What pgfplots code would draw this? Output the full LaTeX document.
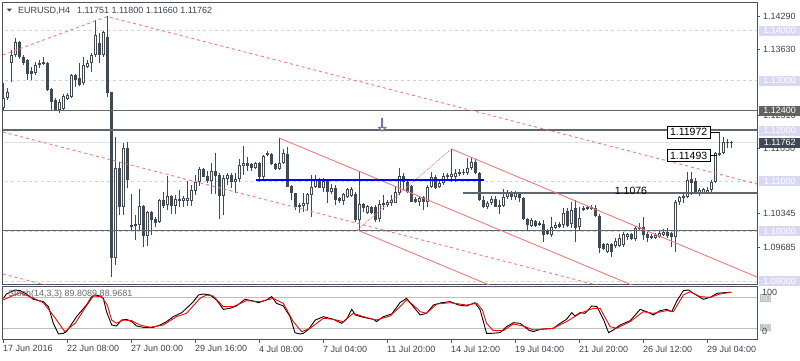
\documentclass[border=0pt]{standalone}
\usepackage{fontspec}
\setmainfont{Liberation Sans}
\usepackage{pgfplots}
\usepackage{pgfplotstable}
\usetikzlibrary{shapes.arrows}
\pgfplotsset{compat=1.18}
\newcommand\lbl{\fontsize{9}{10}\selectfont}
\newcommand\lblb{\fontsize{10.5}{12}\selectfont}
\definecolor{cndl}{HTML}{3E4A5A}
\definecolor{frm}{HTML}{4A525E}
\definecolor{txt}{HTML}{3A4250}
\definecolor{lav}{HTML}{D8D8F4}
\definecolor{lavline}{HTML}{CFCFEC}
\definecolor{sal}{HTML}{F07A7A}
\definecolor{lvl}{HTML}{5F666F}
\definecolor{bidline}{HTML}{E2E2E2}
\definecolor{darkbox}{HTML}{626262}
\definecolor{slatebox}{HTML}{3E4856}
\definecolor{stochgray}{HTML}{BDBDBD}
\definecolor{arrowc}{HTML}{6F7B9C}
\tikzset{
  plainlab/.style={anchor=west, font=\lbl, text=txt, inner sep=0pt, xshift=6pt},
  lavbox/.style={anchor=west, font=\lbl, text=white, fill=lav, inner sep=0pt, minimum width=41pt, minimum height=10pt, xshift=2pt},
}

\pgfplotstableread{
i o h l c
0 1.12456 1.12954 1.12416 1.12655
1 1.12655 1.12854 1.12615 1.12775
2 1.13353 1.13612 1.12974 1.13513
3 1.13513 1.13851 1.13473 1.13772
4 1.13772 1.13792 1.13433 1.13473
5 1.13473 1.13513 1.13313 1.13353
6 1.13413 1.13433 1.13014 1.13134
7 1.13194 1.13273 1.13014 1.13134
8 1.13154 1.13373 1.13114 1.13313
9 1.13313 1.13413 1.13253 1.13353
10 1.13333 1.13473 1.13313 1.13373
11 1.13353 1.13373 1.12795 1.12815
12 1.12834 1.12854 1.12416 1.12575
13 1.12615 1.12655 1.12396 1.12416
14 1.12416 1.12635 1.12356 1.12575
15 1.12436 1.12735 1.12396 1.12695
16 1.12635 1.12755 1.12615 1.12715
17 1.12675 1.13134 1.12655 1.13114
18 1.13114 1.13134 1.12874 1.13014
19 1.13054 1.13353 1.12894 1.12914
20 1.12954 1.13473 1.12914 1.13313
21 1.13273 1.13413 1.13253 1.13353
22 1.13353 1.13552 1.13174 1.13513
23 1.13513 1.14210 1.13473 1.13911
24 1.13752 1.13951 1.13353 1.13513
25 1.13513 1.13991 1.13473 1.13971
26 1.13871 1.14290 1.12675 1.12755
27 1.12775 1.12775 1.09087 1.09465
28 1.09465 1.11877 1.09326 1.11260
29 1.11260 1.11379 1.10323 1.10482
30 1.10482 1.11758 1.10323 1.11658
31 1.11658 1.11778 1.10861 1.11020
32 1.10123 1.10741 1.10024 1.10083
33 1.10103 1.10323 1.09824 1.10143
34 1.10123 1.10841 1.10024 1.10502
35 1.10502 1.10522 1.09685 1.09904
36 1.09904 1.10402 1.09705 1.10382
37 1.10382 1.10402 1.09924 1.10223
38 1.10243 1.10283 1.10083 1.10163
39 1.10183 1.10641 1.10163 1.10622
40 1.10622 1.10781 1.10462 1.10502
41 1.10522 1.11100 1.10422 1.10701
42 1.10701 1.10721 1.10343 1.10502
43 1.10502 1.10721 1.10343 1.10641
44 1.10602 1.10821 1.10482 1.10641
45 1.10602 1.10701 1.10482 1.10661
46 1.10602 1.11000 1.10502 1.10661
47 1.10602 1.10921 1.10502 1.10821
48 1.10801 1.11120 1.10721 1.10980
49 1.10980 1.11279 1.10901 1.11240
50 1.11240 1.11260 1.11080 1.11080
51 1.11100 1.11200 1.10960 1.11000
52 1.11000 1.11359 1.10741 1.11200
53 1.11200 1.11559 1.10741 1.11100
54 1.11120 1.11160 1.10243 1.10701
55 1.10701 1.11120 1.10323 1.11060
56 1.11040 1.11160 1.10921 1.11120
57 1.11120 1.11160 1.10861 1.10980
58 1.10980 1.11160 1.10761 1.11040
59 1.11040 1.11439 1.10980 1.11319
60 1.11299 1.11698 1.11120 1.11359
61 1.11359 1.11479 1.11200 1.11299
62 1.11339 1.11359 1.11200 1.11260
63 1.11260 1.11379 1.11240 1.11359
64 1.11359 1.11379 1.10980 1.11080
65 1.11080 1.11519 1.11040 1.11499
66 1.11519 1.11599 1.11499 1.11559
67 1.11539 1.11559 1.11319 1.11339
68 1.11339 1.11359 1.11220 1.11240
69 1.11240 1.11857 1.11220 1.11359
70 1.11359 1.11639 1.11339 1.11559
71 1.11539 1.11678 1.10881 1.10881
72 1.10901 1.10921 1.10622 1.10761
73 1.10761 1.10761 1.10422 1.10482
74 1.10522 1.10562 1.10362 1.10482
75 1.10502 1.10761 1.10382 1.10562
76 1.10542 1.10761 1.10422 1.10741
77 1.10721 1.11120 1.10283 1.10881
78 1.10881 1.11120 1.10861 1.11020
79 1.11020 1.11060 1.10861 1.10861
80 1.10861 1.11060 1.10781 1.11000
81 1.11020 1.11040 1.10562 1.10781
82 1.10781 1.10941 1.10741 1.10861
83 1.10861 1.10921 1.10522 1.10622
84 1.10661 1.10681 1.10562 1.10602
85 1.10602 1.10761 1.10522 1.10741
86 1.10681 1.10861 1.10661 1.10841
87 1.10701 1.10881 1.10681 1.10841
88 1.10741 1.10781 1.10183 1.10223
89 1.10223 1.11180 1.10024 1.10542
90 1.10542 1.10562 1.10382 1.10462
91 1.10362 1.10522 1.10343 1.10502
92 1.10482 1.10502 1.10343 1.10362
93 1.10482 1.10522 1.10183 1.10223
94 1.10243 1.10622 1.10183 1.10542
95 1.10522 1.10721 1.10422 1.10562
96 1.10522 1.10622 1.10482 1.10582
97 1.10562 1.10721 1.10502 1.10622
98 1.10562 1.10881 1.10562 1.10781
99 1.10761 1.11260 1.10721 1.11100
100 1.11100 1.11160 1.10821 1.10980
101 1.10980 1.11020 1.10761 1.10781
102 1.10901 1.10921 1.10582 1.10582
103 1.10641 1.10681 1.10562 1.10582
104 1.10582 1.10701 1.10502 1.10661
105 1.10681 1.10701 1.10422 1.10582
106 1.10582 1.10921 1.10482 1.10881
107 1.10881 1.11180 1.10861 1.11080
108 1.11080 1.11120 1.10841 1.10861
109 1.10881 1.11020 1.10861 1.10960
110 1.10960 1.11160 1.10921 1.11100
111 1.11120 1.11160 1.11020 1.11080
112 1.11080 1.11639 1.10980 1.11140
113 1.11080 1.11240 1.10980 1.11160
114 1.11140 1.11240 1.11100 1.11180
115 1.11180 1.11240 1.11120 1.11160
116 1.11160 1.11459 1.11120 1.11260
117 1.11260 1.11479 1.11220 1.11379
118 1.11379 1.11439 1.11140 1.11160
119 1.11160 1.11180 1.10602 1.10622
120 1.10622 1.10701 1.10462 1.10482
121 1.10482 1.10602 1.10442 1.10562
122 1.10562 1.10701 1.10522 1.10641
123 1.10641 1.10701 1.10482 1.10482
124 1.10522 1.10622 1.10343 1.10482
125 1.10502 1.10841 1.10482 1.10681
126 1.10681 1.10821 1.10641 1.10761
127 1.10761 1.10801 1.10622 1.10681
128 1.10681 1.10801 1.10622 1.10761
129 1.10761 1.10781 1.10582 1.10661
130 1.10661 1.10681 1.10223 1.10243
131 1.10243 1.10263 1.10024 1.10123
132 1.10103 1.10263 1.10083 1.10223
133 1.10203 1.10223 1.10083 1.10103
134 1.10123 1.10203 1.10103 1.10163
135 1.10143 1.10223 1.09784 1.09924
136 1.10024 1.10044 1.09924 1.09944
137 1.09924 1.10283 1.09884 1.10083
138 1.10064 1.10183 1.10044 1.10123
139 1.10143 1.10183 1.10064 1.10083
140 1.10123 1.10462 1.10064 1.10362
141 1.10402 1.10462 1.10083 1.10103
142 1.10143 1.10582 1.10064 1.10422
143 1.10462 1.10622 1.09784 1.10064
144 1.10083 1.10482 1.10024 1.10263
145 1.10422 1.10502 1.10402 1.10462
146 1.10442 1.10502 1.10422 1.10482
147 1.10442 1.10522 1.10422 1.10482
148 1.10462 1.10522 1.10283 1.10303
149 1.10303 1.10343 1.09565 1.09665
150 1.09745 1.09764 1.09625 1.09645
151 1.09585 1.09764 1.09565 1.09745
152 1.09745 1.09764 1.09485 1.09585
153 1.09705 1.09864 1.09665 1.09804
154 1.09705 1.09944 1.09685 1.09864
155 1.09725 1.09984 1.09685 1.09944
156 1.09884 1.09964 1.09824 1.09944
157 1.09944 1.09964 1.09824 1.09844
158 1.09844 1.10103 1.09804 1.10064
159 1.10044 1.10163 1.10004 1.10083
160 1.10083 1.10283 1.09824 1.09924
161 1.09944 1.09984 1.09784 1.09864
162 1.09904 1.09944 1.09844 1.09864
163 1.09864 1.09964 1.09844 1.09924
164 1.09884 1.10024 1.09864 1.09964
165 1.09924 1.10044 1.09904 1.09984
166 1.09984 1.10064 1.09864 1.09904
167 1.09964 1.09984 1.09685 1.09884
168 1.09884 1.10622 1.09585 1.10582
169 1.10582 1.10701 1.10522 1.10681
170 1.10661 1.10741 1.10562 1.10701
171 1.10681 1.11180 1.10661 1.11020
172 1.11040 1.11180 1.10721 1.10960
173 1.11000 1.11060 1.10741 1.10761
174 1.10761 1.10861 1.10701 1.10821
175 1.10761 1.10861 1.10741 1.10841
176 1.10761 1.10881 1.10741 1.10821
177 1.10821 1.11020 1.10761 1.10980
178 1.10980 1.11579 1.10960 1.11559
179 1.11519 1.11972 1.11499 1.11559
180 1.11559 1.11877 1.11539 1.11778
181 1.11758 1.11837 1.11658 1.11750
182 1.11751 1.11800 1.11660 1.11762
}\candles

\pgfplotstableread{
i v
0 78
0.8 86.4
2.9 94.2
4.2 92.9
5.8 86.4
7.5 76.1
10 71.6
11.3 61.9
12.5 29.7
13.8 9
15 10.3
15.8 13.5
18.3 42.5
20.8 65.1
22.1 81.3
22.9 84.5
24.2 82.5
25 78
25.8 52.2
27.1 26.4
28.3 24.5
29.6 36.1
30.8 37.4
32.1 32.9
33.3 24.5
35 21.9
37.5 21.9
39.2 26.4
40.8 32.9
42.5 42.5
44.6 50.3
45.8 58.7
47.5 71.6
48.8 84.5
50 86.4
51.7 84.5
53.3 74.8
55 56.7
56.7 58.7
58.3 63.2
60.4 76.1
62.1 73.5
63.8 69.6
65.8 74.8
67.1 81.3
68.3 68.4
70 63.2
71.7 42.5
72.9 11.6
74.2 9
75 10.3
76.3 18
78 36.1
80 42.5
82.5 37.4
84.6 29.7
85.8 37.4
87.1 56.7
88 45.8
90 41.3
92.5 37.4
93.3 32.9
95 42.5
97.1 47.7
99.2 70
100.8 78
102.5 61.9
104.2 45.8
105.8 49
107.5 65.1
109.6 69.6
111.7 71.6
113.8 65.1
115.8 63.2
117.9 69.6
119.2 55.5
120.8 10.3
122.1 10.3
124.2 11.6
125.8 23.2
127.5 30.9
129.2 29.7
131.3 16.8
132.5 13.5
134.2 18
137.5 20
139.2 29.7
140.8 37.4
142.1 50.3
142.9 43.8
144.2 50.3
145.4 49
147.1 63.2
148.4 61.9
150 37.4
151.3 11.6
152.5 16.8
154.2 26.4
156.7 34.8
159.2 56.7
160.8 52.2
162.5 45.8
164.2 54.2
165.8 56.7
167.1 52.2
168.4 73.5
170 92.9
171.3 94.2
172.5 87.7
175 76.1
176.7 80
178.4 87.7
180.4 89
182 89.8
}\stochK

\pgfplotstableread{
i v
0 74.8
2 82
4.2 89
7 80
10 69.6
12.5 45
15.4 13.5
18 30
20.5 60
22.5 82.5
24.6 81.3
26 65
27.1 36
28.3 29.7
30 36
32.1 34.8
34.2 26.4
36.7 21.9
40 26.4
43.3 42.5
45.8 49
49.2 78
50.8 84.5
52.5 82.5
55 61.9
57.5 61.9
60.8 73.5
64.2 71.6
67.5 78
70 68.4
72.5 32.9
74.6 13.5
76.7 20
80 39.3
82.5 37.4
85 32.9
87.5 49
90 42.5
93.3 36.1
96.7 43.8
99.2 62
100.8 74.8
102.5 65
104.2 52.2
105.8 49
108.4 67
111.7 69.6
115.8 65
118.4 68.4
119.8 55
120.8 29.7
122.5 15.5
125 15.5
127.5 28.4
130 24.5
132.5 16.8
137.5 20
140.8 32.9
144.2 49
147.5 58.7
149.2 58.7
150.5 40
151.7 23.2
153.3 20
156.7 32.9
160 52.2
162.5 49
165.8 54.2
167.5 52.2
170 84.5
171.7 90.9
174.2 81.3
176.7 80
179.2 86.4
181.7 89.6
182 89
}\stochD

\begin{document}
\begin{tikzpicture}
\useasboundingbox (0,0) rectangle (800pt,-360pt);
\fill[white] (0,0) rectangle (800pt,-360pt);

\begin{axis}[
  at={(3pt,-2pt)}, anchor=north west,
  scale only axis, width=754pt, height=282pt,
  xmin=-0.075, xmax=188.4, ymin=1.08947, ymax=1.14569,
  clip mode=individual,
  axis line style={draw=frm, line width=1pt},
  xtick=\empty,
  ytick={1.1429,1.1363,1.1231,1.1165,1.10345,1.09685},
  yticklabels={,,,,,},
  scaled y ticks=false,
  ytick pos=right, tick align=outside, major tick length=3pt,
  tick style={draw=frm, line width=0.8pt},
]
% lavender round-number levels
\addplot[lavline, line width=0.8pt, dash pattern=on 3pt off 3pt] coordinates {(-1,1.14)(190,1.14)};
\addplot[lavline, line width=0.8pt, dash pattern=on 3pt off 3pt] coordinates {(-1,1.13)(190,1.13)};
\addplot[lavline, line width=0.8pt, dash pattern=on 3pt off 3pt] coordinates {(-1,1.12)(190,1.12)};
\addplot[lavline, line width=0.8pt, dash pattern=on 3pt off 3pt] coordinates {(-1,1.11)(190,1.11)};
\addplot[lavline, line width=0.8pt, dash pattern=on 3pt off 3pt] coordinates {(-1,1.10)(190,1.10)};
\addplot[lavline, line width=0.8pt, dash pattern=on 3pt off 3pt] coordinates {(-1,1.09)(190,1.09)};
% bid line
\addplot[bidline, line width=1pt] coordinates {(-1,1.11762)(190,1.11762)};

% candles: wicks, bodies, hollow interiors
\addplot[draw=cndl, line width=1pt, mark=none, quiver={u=0, v={\thisrow{h}-\thisrow{l}}}] table[x=i, y=l] {\candles};
\addplot[draw=cndl, line width=3pt, mark=none, quiver={u=0, v={max(abs(\thisrow{c}-\thisrow{o}),0.0002)}}] table[x=i, y expr={min(\thisrow{o},\thisrow{c})}] {\candles};
\addplot[draw=white, line width=1pt, mark=none, quiver={u=0, v={max(\thisrow{c}-\thisrow{o}-0.0004,0)}}] table[x=i, y expr={\thisrow{o}+0.0002}] {\candles};

% horizontal levels
\addplot[lvl, line width=1.2pt] coordinates {(-1,1.124)(190,1.124)};
\addplot[lvl, line width=1.2pt] coordinates {(-1,1.12017)(190,1.12017)};
\addplot[lvl, line width=1.2pt] coordinates {(-1,1.1002)(190,1.1002)};
\addplot[lvl, line width=1.2pt] coordinates {(114.9,1.10762)(190,1.10762)};

% red trend lines
\addplot[sal, line width=0.9pt, dash pattern=on 3pt off 3pt] coordinates {(-0.1,1.13513)(26,1.14280)(188.4,1.10941)};
\addplot[sal, line width=0.9pt, dash pattern=on 3pt off 3pt] coordinates {(-0.1,1.11977)(188.4,1.08104)};
\addplot[sal, line width=0.9pt, dash pattern=on 3pt off 3pt] coordinates {(-0.1,1.09147)(12,1.08897)};
\addplot[sal, line width=0.9pt] coordinates {(69,1.11857)(188.4,1.07887)};
\addplot[sal, line width=0.9pt] coordinates {(88.5,1.10024)(188.4,1.06702)};
\addplot[sal, line width=0.9pt] coordinates {(112,1.11639)(188.4,1.09087)};
\addplot[sal, line width=0.8pt, dash pattern=on 1pt off 1pt] coordinates {(88.5,1.10024)(112,1.11639)};
% blue level
\addplot[blue, line width=2pt] coordinates {(63.2,1.11014)(120.2,1.11014)};
% leader lines
\addplot[black, line width=0.8pt] coordinates {(176.7,1.11973)(179.2,1.11973)};
\addplot[black, line width=0.8pt] coordinates {(176.7,1.11501)(178.3,1.11501)};

\node[draw=black, fill=white, line width=0.8pt, inner sep=0pt, minimum width=43pt, minimum height=12pt, font=\lblb] at (axis cs:171.3,1.11973) {1.11972};
\node[draw=black, fill=white, line width=0.8pt, inner sep=0pt, minimum width=43pt, minimum height=12pt, font=\lblb] at (axis cs:171.3,1.11501) {1.11493};
\node[font=\lblb, text=black, inner sep=0pt] at (axis cs:156.9,1.10801) {1.1076};
% hollow down arrow (object marker)
\node[single arrow, draw=arrowc, fill=white, line width=1pt, rotate=-90, minimum height=12.5pt, minimum width=5pt, single arrow head extend=3pt, single arrow tip angle=90, inner sep=0pt] at (axis cs:94.7,1.12127) {};

% right price scale labels
\node[plainlab] at (axis cs:188.4,1.1429) {1.14290};
\node[lavbox] at (axis cs:188.4,1.14) {1.14000};
\node[plainlab] at (axis cs:188.4,1.1363) {1.13630};
\node[lavbox] at (axis cs:188.4,1.13) {1.13000};
\node[plainlab] at (axis cs:188.4,1.1231) {1.12310};
\node[lavbox, fill=darkbox] at (axis cs:188.4,1.124) {1.12400};
\node[lavbox] at (axis cs:188.4,1.12) {1.12000};
\node[plainlab] at (axis cs:188.4,1.1165) {1.11650};
\node[lavbox, fill=slatebox] at (axis cs:188.4,1.11762) {1.11762};
\node[lavbox] at (axis cs:188.4,1.11) {1.11000};
\node[plainlab] at (axis cs:188.4,1.10345) {1.10345};
\node[lavbox] at (axis cs:188.4,1.10) {1.10000};
\node[plainlab] at (axis cs:188.4,1.09685) {1.09685};
\node[lavbox] at (axis cs:188.4,1.09) {1.09000};
\end{axis}

\begin{axis}[
  at={(3pt,-286pt)}, anchor=north west,
  scale only axis, width=754pt, height=53pt,
  xmin=-0.075, xmax=188.4, ymin=-0.7, ymax=101.85,
  clip mode=individual,
  axis line style={draw=frm, line width=1pt},
  xtick={0,16,32,48,64,80,96,112,128,144,160,176},
  xticklabels={17 Jun 2016,22 Jun 08:00,27 Jun 00:00,29 Jun 16:00,4 Jul 08:00,7 Jul 04:00,11 Jul 20:00,14 Jul 12:00,19 Jul 04:00,21 Jul 20:00,26 Jul 12:00,29 Jul 04:00},
  xtick pos=bottom,
  tick align=outside, major tick length=4pt,
  tick style={draw=frm, line width=0.8pt},
  xticklabel style={anchor=north west, font=\lbl, text=txt, inner sep=0pt, xshift=-0.5pt, yshift=-2.5pt},
  ytick=\empty,
]
\addplot[stochgray, line width=0.8pt] coordinates {(-1,80)(190,80)};
\addplot[stochgray, line width=0.8pt] coordinates {(-1,20)(190,20)};
\addplot[black, line width=0.9pt] table[x=i, y=v] {\stochK};
\addplot[red, line width=0.9pt] table[x=i, y=v] {\stochD};
\node[anchor=west, font=\lbl, text=white!85!gray, fill=stochgray, inner sep=0.6pt, xshift=3pt] at (axis cs:188.4,78.6) {80};
\node[anchor=west, font=\lbl, text=white!85!gray, fill=stochgray, inner sep=0.6pt, xshift=3pt] at (axis cs:188.4,21.5) {20};
\node[anchor=west, font=\lbl, text=txt, inner sep=0pt, xshift=5pt] at (axis cs:188.4,90.2) {100};
\node[anchor=west, font=\lbl, text=txt, inner sep=0pt, xshift=5pt] at (axis cs:188.4,13.8) {0};
\end{axis}

% title and indicator label
\fill[txt] (6.7pt,-8.6pt) -- (11.9pt,-8.6pt) -- (9.3pt,-11.6pt) -- cycle;
\node[anchor=west, font=\lbl, text=txt, inner sep=0pt] at (18pt,-10.8pt) {EURUSD,H4\hspace{7pt}1.11751 1.11800 1.11660 1.11762};
\node[anchor=west, font=\lbl, text=txt!80!white, inner sep=0pt] at (8pt,-294pt) {Stoch(14,3,3) 89.8089 88.9681};
\end{tikzpicture}
\end{document}
